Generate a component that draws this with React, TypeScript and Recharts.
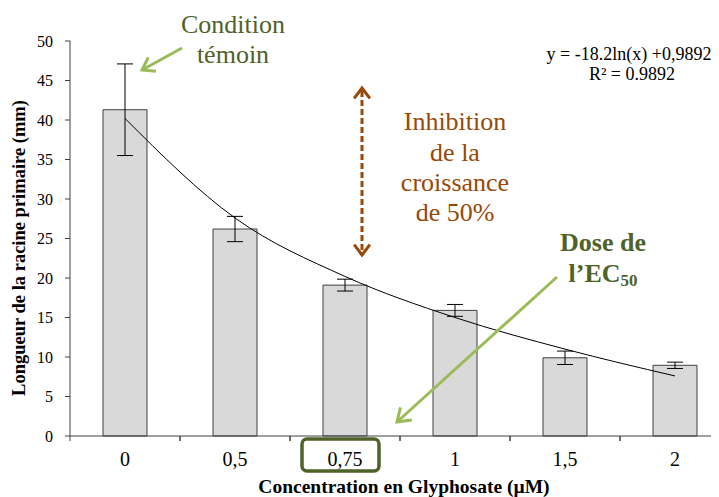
import React from 'react';
import { ComposedChart, Bar, Line, XAxis, YAxis, ErrorBar } from 'recharts';

const categories = ['0', '0,5', '0,75', '1', '1,5', '2'];
const rootLength = [41.3, 26.2, 19.1, 15.9, 9.9, 8.95];
const rootError = [5.8, 1.6, 0.75, 0.75, 0.85, 0.4];
const trendValues = [40.2, 27.6, 20.2, 15.0, 11.0, 7.6];
const yTicks = [0, 5, 10, 15, 20, 25, 30, 35, 40, 45, 50];

const data = categories.map((c, i) => ({
  cat: c,
  len: rootLength[i],
  err: rootError[i],
  trend: trendValues[i],
}));

const FONT = "'Liberation Serif', 'Times New Roman', Times, 'DejaVu Serif', serif";
const AXIS = '#404040';
const OLIVE = '#4f6228';
const LIGHTGREEN = '#9bbb59';
const BROWN = '#984807';

const HALF_BAND = 55;

function XTick(props: any) {
  const { x, y, payload } = props;
  return (
    <g>
      <line x1={x - HALF_BAND} y1={y} x2={x - HALF_BAND} y2={y + 5} stroke={AXIS} />
      <line x1={x + HALF_BAND} y1={y} x2={x + HALF_BAND} y2={y + 5} stroke={AXIS} />
      <text x={x} y={y + 30} textAnchor="middle" fill="#000" style={{ fontSize: 20, fontFamily: FONT }}>
        {payload.value}
      </text>
    </g>
  );
}

function arrowHead(fx: number, fy: number, tx: number, ty: number, len: number, spread: number) {
  const a = Math.atan2(ty - fy, tx - fx);
  const p1 = [tx - len * Math.cos(a - spread), ty - len * Math.sin(a - spread)];
  const p2 = [tx - len * Math.cos(a + spread), ty - len * Math.sin(a + spread)];
  return `M${p1[0]},${p1[1]} L${tx},${ty} L${p2[0]},${p2[1]}`;
}

function Overlay() {
  const a1 = { fx: 174, fy: 40, tx: 134, ty: 62 };
  const a2 = { fx: 549, fy: 269, tx: 389, ty: 414 };
  const bx = 354;
  const bTop = 80;
  const bBot = 247;
  return (
    <svg
      width={711}
      height={489}
      style={{ position: 'absolute', left: 0, top: 0, pointerEvents: 'none', fontFamily: FONT }}
    >
      {/* Condition témoin */}
      <text x={225} y={25} textAnchor="middle" fontSize={26} fill={OLIVE}>Condition</text>
      <text x={225} y={55} textAnchor="middle" fontSize={26} fill={OLIVE}>témoin</text>
      <line x1={a1.fx} y1={a1.fy} x2={a1.tx} y2={a1.ty} stroke={LIGHTGREEN} strokeWidth={3} />
      <path d={arrowHead(a1.fx, a1.fy, a1.tx, a1.ty, 14, 0.6)} fill="none" stroke={LIGHTGREEN} strokeWidth={3} />

      {/* Equation */}
      <text x={621} y={52} textAnchor="middle" fontSize={18} fill="#000">y = -18.2ln(x) +0,9892</text>
      <text x={624} y={72} textAnchor="middle" fontSize={18} fill="#000">R² = 0.9892</text>

      {/* Inhibition */}
      <line x1={bx} y1={bTop + 3} x2={bx} y2={bBot - 3} stroke={BROWN} strokeWidth={3} strokeDasharray="6 3" />
      <path d={arrowHead(bx, bBot, bx, bTop, 13, 0.65)} fill="none" stroke={BROWN} strokeWidth={3} />
      <path d={arrowHead(bx, bTop, bx, bBot, 13, 0.65)} fill="none" stroke={BROWN} strokeWidth={3} />
      <text x={447} y={122} textAnchor="middle" fontSize={26} fill={BROWN}>Inhibition</text>
      <text x={447} y={153} textAnchor="middle" fontSize={26} fill={BROWN}>de la</text>
      <text x={447} y={183} textAnchor="middle" fontSize={26} fill={BROWN}>croissance</text>
      <text x={447} y={213} textAnchor="middle" fontSize={26} fill={BROWN}>de 50%</text>

      {/* Dose de l'EC50 */}
      <text x={595} y={243} textAnchor="middle" fontSize={26} fontWeight="bold" fill={OLIVE}>Dose de</text>
      <text x={595} y={274} textAnchor="middle" fontSize={26} fontWeight="bold" fill={OLIVE}>
        l’EC<tspan fontSize={17} dy={4}>50</tspan>
      </text>
      <line x1={a2.fx} y1={a2.fy} x2={a2.tx} y2={a2.ty} stroke={LIGHTGREEN} strokeWidth={3} />
      <path d={arrowHead(a2.fx, a2.fy, a2.tx, a2.ty, 15, 0.6)} fill="none" stroke={LIGHTGREEN} strokeWidth={3} />

      {/* Box around 0,75 */}
      <rect x={294} y={431} width={77} height={32} rx={5} ry={5} fill="none" stroke={OLIVE} strokeWidth={3.5} />

      {/* Axis titles */}
      <text x={396} y={485} textAnchor="middle" fontSize={19.5} fontWeight="bold" fill="#000">
        Concentration en Glyphosate (µM)
      </text>
      <text
        x={0}
        y={0}
        transform="translate(17,240) rotate(-90)"
        textAnchor="middle"
        fontSize={18.5}
        fontWeight="bold"
        fill="#000"
      >
        Longueur de la racine primaire (mm)
      </text>
    </svg>
  );
}

export default function App() {
  return (
    <div style={{ position: 'relative', width: 711, height: 489, overflow: 'hidden', fontFamily: FONT }}>
      <ComposedChart
        width={722}
        height={489}
        data={data}
        margin={{ top: 33, right: 0, bottom: 0, left: 0 }}
        barCategoryGap={0}
        style={{ fontFamily: FONT }}
      >
        <XAxis
          dataKey="cat"
          height={61}
          interval={0}
          tickLine={false}
          tickSize={0}
          tickMargin={0}
          axisLine={{ stroke: AXIS }}
          tick={<XTick />}
        />
        <YAxis
          width={62}
          domain={[0, 50]}
          ticks={yTicks}
          interval={0}
          tickSize={5}
          tickMargin={12}
          axisLine={{ stroke: AXIS }}
          tickLine={{ stroke: AXIS }}
          tick={{ fontSize: 16, fill: '#000', style: { fontFamily: FONT } }}
        />
        <Bar dataKey="len" barSize={44} fill="#d9d9d9" stroke="#404040" strokeWidth={1} isAnimationActive={false}>
          <ErrorBar dataKey="err" width={8} stroke="#000" strokeWidth={1} />
        </Bar>
        <Line
          dataKey="trend"
          type="monotone"
          stroke="#000"
          strokeWidth={1}
          dot={false}
          activeDot={false}
          isAnimationActive={false}
        />
      </ComposedChart>
      <Overlay />
    </div>
  );
}
